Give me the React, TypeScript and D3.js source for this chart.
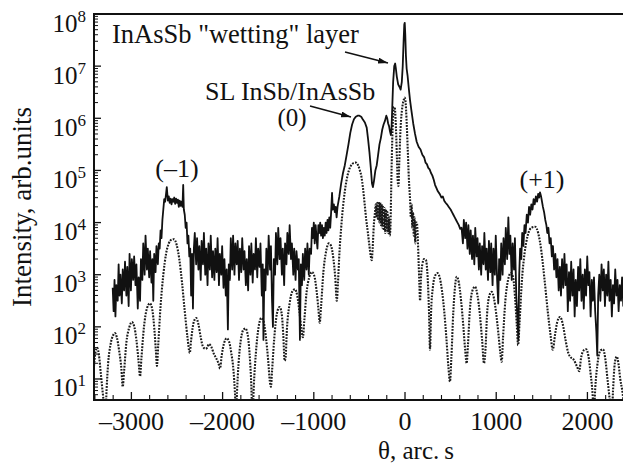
import React from 'react';
import * as d3 from 'd3';

const W = 623;
const H = 467;
const plot = { left: 94, right: 625, top: 14, bottom: 400 };

const thetaDomain: [number, number] = [-3410, 2412];
const logMin = 0.597;
const logMax = 8;
const xTicks = [-3000, -2000, -1000, 0, 1000, 2000];
const xTickLabels = ['\u20133000', '\u20132000', '\u20131000', '0', '1000', '2000'];
const yDecades = [1, 2, 3, 4, 5, 6, 7, 8];

// experimental curve: [theta (arc s), log10 intensity]
const measured: [number, number][] = [
  [-3205, 2.75], [-3195, 2.3], [-3185, 2.9], [-3175, 2.2], [-3165, 2.8], [-3150, 2.5], [-3140, 3.2], [-3130, 2.6],
  [-3120, 3.0], [-3105, 2.45], [-3095, 3.1], [-3080, 2.7], [-3070, 3.25], [-3055, 2.6], [-3045, 3.15], [-3030, 2.4],
  [-3020, 3.4], [-3005, 2.7], [-2995, 3.3], [-2980, 2.9], [-2970, 3.35], [-2955, 2.8], [-2945, 3.2], [-2930, 2.35],
  [-2920, 2.95], [-2905, 2.5], [-2895, 3.3], [-2880, 2.9], [-2870, 3.6], [-2855, 3.0], [-2845, 3.75], [-2830, 3.1],
  [-2820, 3.5], [-2805, 2.95], [-2795, 3.45], [-2780, 2.85], [-2770, 3.3], [-2760, 2.5], [-2750, 3.4], [-2735, 3.05],
  [-2725, 3.55], [-2710, 3.2], [-2700, 3.6], [-2690, 3.5], [-2680, 3.85], [-2670, 3.7], [-2660, 4.05], [-2650, 4.25],
  [-2640, 4.45], [-2630, 4.4], [-2620, 4.55], [-2612, 4.68], [-2600, 4.42], [-2590, 4.5], [-2580, 4.38], [-2570, 4.46],
  [-2560, 4.35], [-2550, 4.45], [-2540, 4.4], [-2530, 4.48], [-2520, 4.36], [-2510, 4.46], [-2500, 4.38], [-2490, 4.44],
  [-2480, 4.3], [-2470, 4.42], [-2460, 4.32], [-2450, 4.4], [-2440, 4.3], [-2432, 4.72], [-2425, 4.25], [-2415, 4.15],
  [-2405, 3.9], [-2395, 4.0], [-2385, 3.6], [-2375, 3.75], [-2365, 3.35], [-2355, 3.5], [-2345, 2.6], [-2335, 3.4],
  [-2325, 2.35], [-2315, 3.5], [-2305, 3.8], [-2290, 3.2], [-2280, 3.7], [-2265, 3.1], [-2255, 3.55], [-2240, 2.9],
  [-2230, 3.65], [-2215, 3.2], [-2205, 3.8], [-2190, 3.0], [-2180, 3.5], [-2165, 2.8], [-2155, 3.6], [-2140, 3.1],
  [-2130, 3.75], [-2115, 2.95], [-2105, 3.45], [-2090, 2.9], [-2080, 3.5], [-2065, 3.05], [-2055, 3.7], [-2040, 2.8],
  [-2030, 3.4], [-2015, 3.0], [-2005, 3.55], [-1990, 2.75], [-1980, 3.3], [-1965, 2.6], [-1955, 3.1], [-1942, 1.95],
  [-1932, 3.2], [-1920, 2.9], [-1910, 3.7], [-1895, 3.1], [-1885, 3.75], [-1870, 3.0], [-1860, 3.6], [-1845, 3.2],
  [-1835, 3.65], [-1820, 2.9], [-1810, 3.5], [-1795, 3.05], [-1785, 3.7], [-1770, 3.1], [-1760, 3.45], [-1745, 2.8],
  [-1735, 3.3], [-1720, 2.7], [-1710, 3.55], [-1695, 3.0], [-1685, 3.6], [-1670, 2.85], [-1660, 3.4], [-1645, 3.1],
  [-1635, 3.7], [-1620, 2.95], [-1610, 3.5], [-1595, 3.15], [-1585, 3.6], [-1570, 2.6], [-1560, 3.2], [-1552, 1.75],
  [-1542, 3.1], [-1530, 2.7], [-1520, 3.5], [-1505, 3.0], [-1495, 3.75], [-1480, 3.1], [-1470, 3.55], [-1458, 2.5],
  [-1448, 2.0], [-1438, 3.3], [-1425, 3.0], [-1415, 3.8], [-1400, 3.2], [-1390, 3.9], [-1375, 3.3], [-1365, 3.7],
  [-1350, 3.0], [-1340, 3.5], [-1325, 2.8], [-1315, 3.6], [-1300, 3.2], [-1290, 3.8], [-1275, 3.4], [-1265, 3.95],
  [-1250, 3.3], [-1240, 3.6], [-1225, 3.0], [-1215, 3.5], [-1200, 2.9], [-1190, 3.45], [-1175, 3.1], [-1165, 3.3],
  [-1152, 1.75], [-1142, 3.2], [-1130, 2.8], [-1120, 3.4], [-1105, 2.9], [-1095, 3.5], [-1080, 3.1], [-1070, 3.6],
  [-1055, 3.0], [-1045, 3.5], [-1030, 3.4], [-1020, 3.9], [-1010, 3.7], [-1000, 4.0], [-990, 3.6], [-980, 3.95],
  [-970, 3.7], [-960, 3.5], [-950, 3.95], [-940, 3.8], [-930, 4.0], [-920, 3.75], [-910, 3.95], [-900, 3.7],
  [-890, 3.9], [-880, 3.75], [-870, 4.0], [-860, 3.8], [-850, 4.05], [-840, 3.85], [-830, 4.1], [-820, 3.9],
  [-810, 4.2], [-800, 4.57], [-792, 4.25], [-780, 4.35], [-770, 4.2], [-760, 4.3], [-750, 4.1], [-740, 4.3],
  [-730, 4.4], [-720, 4.5], [-700, 4.75], [-680, 4.95], [-660, 5.1], [-640, 5.3], [-620, 5.5], [-600, 5.72],
  [-580, 5.88], [-560, 5.98], [-540, 6.03], [-520, 6.05], [-500, 6.05], [-480, 6.03], [-460, 5.97], [-440, 5.92],
  [-420, 5.82], [-405, 5.6], [-390, 5.35], [-375, 5.05], [-362, 4.75], [-352, 4.68], [-340, 4.8], [-325, 5.0],
  [-310, 5.1], [-295, 5.3], [-280, 5.5], [-265, 5.62], [-250, 5.78], [-235, 5.88], [-220, 5.95], [-205, 6.05],
  [-195, 6.0], [-185, 5.9], [-175, 5.85], [-165, 5.75], [-155, 5.68], [-148, 5.8], [-140, 6.2], [-130, 6.7],
  [-118, 7.0], [-108, 7.05], [-100, 6.95], [-90, 6.8], [-75, 6.65], [-60, 6.6], [-48, 6.55], [-35, 6.7],
  [-25, 7.0], [-15, 7.5], [-8, 7.8], [-3, 7.83], [3, 7.6], [10, 7.2], [18, 6.95], [28, 6.82],
  [40, 6.6], [55, 6.35], [70, 6.15], [90, 5.9], [110, 5.7], [128, 5.55], [150, 5.45], [170, 5.4],
  [190, 5.3], [210, 5.25], [225, 5.15], [240, 5.12], [255, 5.05], [270, 5.02], [285, 4.95], [300, 4.9],
  [315, 4.82], [330, 4.72], [345, 4.66], [360, 4.6], [380, 4.55], [400, 4.48], [415, 4.5], [430, 4.42],
  [445, 4.38], [460, 4.35], [480, 4.3], [500, 4.25], [515, 4.2], [530, 4.15], [545, 4.1], [560, 4.05],
  [575, 4.0], [590, 3.95], [605, 3.88], [620, 3.9], [635, 3.6], [645, 4.05], [660, 3.7], [670, 4.0],
  [685, 3.5], [695, 3.95], [710, 3.4], [720, 3.85], [735, 3.3], [745, 3.75], [760, 3.2], [770, 3.9],
  [785, 3.35], [795, 3.7], [810, 3.1], [820, 3.6], [835, 3.0], [845, 3.55], [860, 3.2], [870, 3.8],
  [885, 3.1], [895, 3.5], [910, 2.9], [920, 3.65], [935, 3.05], [945, 3.6], [960, 2.8], [970, 3.5],
  [985, 3.0], [995, 3.75], [1010, 2.9], [1022, 2.45], [1032, 3.3], [1045, 2.9], [1055, 3.6], [1070, 3.0],
  [1080, 3.7], [1095, 3.2], [1105, 3.9], [1120, 3.3], [1133, 4.1], [1145, 3.4], [1155, 3.75], [1170, 2.9],
  [1180, 3.6], [1195, 3.1], [1205, 3.7], [1220, 2.6], [1232, 2.2], [1243, 1.75], [1252, 3.0], [1262, 3.5],
  [1275, 3.3], [1285, 3.8], [1298, 3.55], [1310, 3.95], [1322, 3.8], [1335, 4.15], [1348, 4.0], [1360, 4.3],
  [1372, 4.15], [1385, 4.35], [1398, 4.25], [1410, 4.45], [1422, 4.35], [1435, 4.5], [1448, 4.4], [1460, 4.55],
  [1470, 4.48], [1480, 4.58], [1492, 4.5], [1502, 4.4], [1512, 4.3], [1525, 4.2], [1538, 4.05], [1550, 3.95],
  [1560, 3.8], [1572, 3.9], [1585, 3.6], [1598, 3.7], [1610, 3.35], [1622, 3.55], [1635, 3.1], [1648, 3.4],
  [1660, 2.95], [1672, 3.3], [1685, 2.7], [1698, 3.15], [1710, 2.6], [1722, 3.3], [1735, 2.75], [1748, 3.4],
  [1760, 2.8], [1772, 3.2], [1785, 2.3], [1798, 3.05], [1810, 2.5], [1822, 3.25], [1835, 2.6], [1848, 3.1],
  [1860, 2.2], [1872, 2.9], [1885, 2.4], [1898, 3.15], [1910, 2.7], [1922, 3.3], [1935, 2.5], [1948, 3.0],
  [1960, 2.35], [1972, 3.1], [1985, 2.6], [1998, 3.35], [2010, 2.8], [2022, 3.05], [2035, 2.2], [2048, 2.9],
  [2060, 2.5], [2072, 2.95], [2085, 2.3], [2098, 1.9], [2108, 1.45], [2118, 2.6], [2130, 3.0], [2142, 2.5],
  [2155, 3.2], [2168, 2.7], [2180, 3.1], [2192, 2.4], [2205, 3.0], [2218, 2.6], [2230, 3.25], [2242, 2.5],
  [2255, 2.9], [2268, 2.2], [2280, 2.8], [2292, 2.45], [2305, 3.1], [2318, 2.6], [2330, 2.9], [2342, 2.3],
  [2355, 2.8], [2368, 2.5], [2380, 2.95], [2393, 2.4], [2405, 2.8], [2412, 2.6],
];

// simulated curve: [theta (arc s), log10 intensity]
const simulated: [number, number][] = [
  [-3410, 1.25], [-3395, 1.5], [-3375, 1.6], [-3355, 1.45], [-3335, 1.1], [-3315, 0.75], [-3300, 0.5], [-3285, 0.3],
  [-3272, 0.8], [-3255, 1.3], [-3230, 1.65], [-3200, 1.84], [-3180, 1.88], [-3160, 1.8], [-3135, 1.55], [-3110, 1.2],
  [-3095, 0.85], [-3080, 1.15], [-3055, 1.7], [-3025, 1.98], [-2994, 2.09], [-2968, 2.0], [-2945, 1.75], [-2922, 1.35],
  [-2905, 1.05], [-2890, 1.4], [-2862, 2.0], [-2830, 2.35], [-2796, 2.45], [-2770, 2.32], [-2748, 1.95], [-2732, 1.55],
  [-2720, 1.25], [-2706, 1.65], [-2680, 2.4], [-2650, 3.0], [-2620, 3.4], [-2590, 3.6], [-2560, 3.67], [-2533, 3.68],
  [-2505, 3.58], [-2475, 3.3], [-2445, 2.85], [-2415, 2.3], [-2385, 1.8], [-2360, 1.5], [-2345, 1.75], [-2315, 2.1],
  [-2290, 2.17], [-2265, 2.05], [-2240, 1.8], [-2215, 1.62], [-2190, 1.58], [-2170, 1.6], [-2150, 1.67], [-2125, 1.62],
  [-2095, 1.48], [-2065, 1.38], [-2045, 1.3], [-2028, 1.2], [-2010, 1.45], [-1985, 1.68], [-1955, 1.78], [-1930, 1.72],
  [-1905, 1.5], [-1880, 1.15], [-1865, 0.75], [-1853, 0.3], [-1842, 0.75], [-1825, 1.3], [-1800, 1.75], [-1770, 1.95],
  [-1750, 1.97], [-1725, 1.85], [-1705, 1.5], [-1688, 1.0], [-1672, 0.3], [-1657, 0.9], [-1635, 1.5], [-1605, 2.0],
  [-1575, 2.17], [-1550, 2.1], [-1525, 1.8], [-1500, 1.35], [-1482, 0.95], [-1470, 0.85], [-1458, 1.15], [-1435, 1.75],
  [-1405, 2.25], [-1375, 2.38], [-1352, 2.25], [-1335, 1.85], [-1320, 1.35], [-1310, 1.4], [-1295, 1.95], [-1265, 2.45],
  [-1235, 2.68], [-1206, 2.72], [-1180, 2.58], [-1155, 2.25], [-1135, 1.95], [-1120, 1.8], [-1105, 2.1], [-1080, 2.65],
  [-1050, 2.95], [-1020, 3.05], [-995, 2.98], [-970, 2.7], [-950, 2.35], [-935, 2.08], [-920, 2.4], [-895, 3.05],
  [-865, 3.45], [-835, 3.6], [-810, 3.55], [-785, 3.3], [-765, 2.95], [-748, 2.5], [-735, 2.85], [-718, 3.45],
  [-700, 3.9], [-680, 4.3], [-660, 4.6], [-640, 4.82], [-615, 5.0], [-590, 5.1], [-565, 5.14], [-540, 5.15],
  [-515, 5.1], [-495, 5.0], [-478, 4.88], [-460, 4.65], [-442, 4.35], [-425, 4.05], [-408, 3.82], [-390, 3.55],
  [-375, 3.35], [-365, 3.28], [-355, 3.5], [-342, 3.95], [-330, 4.18], [-320, 4.35], [-312, 4.1], [-304, 4.38],
  [-296, 4.05], [-288, 4.4], [-280, 4.0], [-272, 4.38], [-264, 3.95], [-256, 4.35], [-248, 3.9], [-240, 4.3],
  [-232, 3.85], [-224, 4.28], [-216, 3.8], [-208, 4.25], [-200, 3.85], [-192, 4.2], [-184, 3.8], [-176, 4.1],
  [-168, 3.75], [-160, 3.9], [-152, 4.6], [-144, 5.3], [-136, 5.8], [-128, 6.1], [-120, 6.22], [-112, 6.2],
  [-104, 6.0], [-96, 5.65], [-88, 5.2], [-80, 4.8], [-72, 4.7], [-64, 5.1], [-54, 5.6], [-44, 5.95],
  [-34, 6.15], [-24, 6.28], [-14, 6.35], [-5, 6.4], [4, 6.35], [12, 6.15], [20, 5.85], [30, 5.4],
  [42, 4.85], [55, 4.45], [64, 4.1], [72, 4.35], [80, 3.9], [88, 4.2], [96, 3.75], [104, 4.1],
  [112, 3.6], [120, 4.0], [130, 4.0], [140, 3.7], [150, 3.2], [158, 2.8], [165, 2.5], [174, 2.9],
  [190, 3.2], [210, 3.3], [230, 3.28], [248, 2.95], [262, 2.35], [274, 1.56], [286, 2.3], [305, 2.75],
  [330, 2.98], [355, 3.03], [380, 2.95], [405, 2.7], [430, 2.3], [455, 1.75], [475, 1.25], [493, 0.95],
  [508, 1.4], [530, 2.3], [550, 2.8], [567, 2.96], [590, 2.85], [615, 2.5], [640, 2.0], [660, 1.55],
  [676, 1.3], [690, 1.65], [710, 2.3], [740, 2.7], [768, 2.77], [795, 2.6], [820, 2.25], [845, 1.75],
  [866, 1.3], [880, 1.5], [900, 2.25], [925, 2.6], [950, 2.67], [975, 2.55], [1000, 2.25], [1025, 1.85],
  [1045, 1.5], [1060, 1.33], [1075, 1.8], [1100, 2.5], [1130, 2.9], [1160, 3.03], [1185, 2.95], [1205, 2.6],
  [1225, 2.05], [1240, 1.65], [1255, 2.05], [1280, 2.85], [1310, 3.4], [1345, 3.75], [1385, 3.9], [1425, 3.92],
  [1460, 3.8], [1495, 3.45], [1530, 2.9], [1565, 2.3], [1595, 1.85], [1620, 1.56], [1645, 1.85], [1670, 2.1],
  [1700, 2.19], [1730, 2.05], [1760, 1.75], [1790, 1.5], [1815, 1.42], [1845, 1.38], [1870, 1.3], [1890, 1.22],
  [1910, 1.15], [1930, 1.4], [1960, 1.55], [1985, 1.57], [2010, 1.45], [2035, 1.1], [2055, 0.75], [2070, 0.3],
  [2085, 0.8], [2115, 1.35], [2145, 1.55], [2171, 1.57], [2195, 1.4], [2220, 1.0], [2245, 0.6], [2268, 0.3],
  [2280, 0.75], [2300, 1.3], [2322, 1.43], [2340, 1.3], [2360, 1.0], [2380, 0.8], [2395, 0.6], [2412, 0.4],
];

const annotations = [
  { text: 'InAsSb "wetting" layer', x: 112, y: 43, anchor: 'start', size: 26.5 },
  { text: 'SL InSb/InAsSb', x: 205, y: 100, anchor: 'start', size: 26 },
  { text: '(0)', x: 292, y: 125.5, anchor: 'middle', size: 25 },
  { text: '(\u20131)', x: 177, y: 177, anchor: 'middle', size: 26 },
  { text: '(+1)', x: 542, y: 188, anchor: 'middle', size: 26 },
];
const arrows = [
  { x1: 345, y1: 52, x2: 388, y2: 63 },
  { x1: 310, y1: 106, x2: 351, y2: 117 },
];

const FONT = "'Liberation Serif', 'DejaVu Serif', serif";
const textStyle = { fontFamily: FONT };

export default function App() {
  const x = d3.scaleLinear().domain(thetaDomain).range([plot.left, plot.right]);
  const y = d3.scaleLog().domain([Math.pow(10, logMin), Math.pow(10, logMax)]).range([plot.bottom, plot.top]);

  const line = d3
    .line<[number, number]>()
    .x((d) => x(d[0]))
    .y((d) => y(Math.pow(10, d[1])));
  const smooth = d3
    .line<[number, number]>()
    .x((d) => x(d[0]))
    .y((d) => y(Math.pow(10, d[1])))
    .curve(d3.curveMonotoneX);

  const xMinor = d3.range(-3400, 2400, 200).filter((v) => v % 1000 !== 0);
  const yMinor: number[] = [];
  for (let d = 0; d < 8; d++) {
    for (let k = 2; k <= 9; k++) {
      const v = k * Math.pow(10, d);
      if (v >= Math.pow(10, logMin) && v <= Math.pow(10, logMax)) yMinor.push(v);
    }
  }

  return (
    <svg
      width={W}
      height={H}
      viewBox={`0 0 ${W} ${H}`}
      style={{ position: 'absolute', left: 0, top: 0, background: '#fff', fontFamily: FONT }}
    >
      <defs>
        <clipPath id="plotClip">
          <rect x={plot.left} y={plot.top} width={plot.right - plot.left} height={plot.bottom - plot.top} />
        </clipPath>
        <marker id="arrowHead" viewBox="0 0 10 6" refX="10" refY="3" markerWidth="10" markerHeight="6" markerUnits="userSpaceOnUse" orient="auto">
          <path d="M0,0 L10,3 L0,6 z" fill="#111" />
        </marker>
      </defs>
      <rect x={0} y={0} width={W} height={H} fill="#fff" />

      <g clipPath="url(#plotClip)">
        <path d={smooth(simulated) || ''} fill="none" stroke="#1a1a1a" strokeWidth={2.1} strokeDasharray="1.8,1.3" />
        <path d={line(measured) || ''} fill="none" stroke="#111" strokeWidth={1.8} strokeLinejoin="round" />
      </g>

      {xTicks.map((t) => (
        <line key={'xt' + t} x1={x(t)} x2={x(t)} y1={plot.bottom} y2={plot.bottom - 8} stroke="#111" strokeWidth={1.3} />
      ))}
      {xMinor.map((t) => (
        <line key={'xm' + t} x1={x(t)} x2={x(t)} y1={plot.bottom} y2={plot.bottom - 5} stroke="#111" strokeWidth={1.1} />
      ))}
      {yDecades.map((d) => (
        <line key={'yt' + d} x1={plot.left} x2={plot.left + 7} y1={y(Math.pow(10, d))} y2={y(Math.pow(10, d))} stroke="#111" strokeWidth={1.3} />
      ))}
      {yMinor.map((v, i) => (
        <line key={'ym' + i} x1={plot.left} x2={plot.left + 4} y1={y(v)} y2={y(v)} stroke="#111" strokeWidth={1} />
      ))}

      <rect x={plot.left} y={plot.top} width={plot.right - plot.left} height={plot.bottom - plot.top} fill="none" stroke="#111" strokeWidth={2} />

      {xTicks.map((t, i) => (
        <text key={'xl' + t} x={x(t)} y={430} textAnchor="middle" fontSize={26} fill="#111" style={textStyle}>
          {xTickLabels[i]}
        </text>
      ))}
      {yDecades.map((d) => (
        <text key={'yl' + d} x={86} y={y(Math.pow(10, d)) + 17.5} textAnchor="end" fontSize={25} fill="#111" style={textStyle}>
          10
          <tspan fontSize={17} dy={-10}>
            {String(d)}
          </tspan>
        </text>
      ))}

      <text x={416} y={459} textAnchor="middle" fontSize={25} fill="#111" style={textStyle}>
        θ, arc.&#8201;s
      </text>
      <text transform={`translate(31, 207) rotate(-90)`} textAnchor="middle" fontSize={27} fill="#111" style={textStyle}>
        Intensity, arb.units
      </text>

      {annotations.map((a, i) => (
        <text key={'an' + i} x={a.x} y={a.y} textAnchor={a.anchor as any} fontSize={a.size} fill="#111" style={textStyle}>
          {a.text}
        </text>
      ))}
      {arrows.map((a, i) => (
        <line key={'ar' + i} x1={a.x1} y1={a.y1} x2={a.x2} y2={a.y2} stroke="#111" strokeWidth={1.5} markerEnd="url(#arrowHead)" />
      ))}
    </svg>
  );
}
